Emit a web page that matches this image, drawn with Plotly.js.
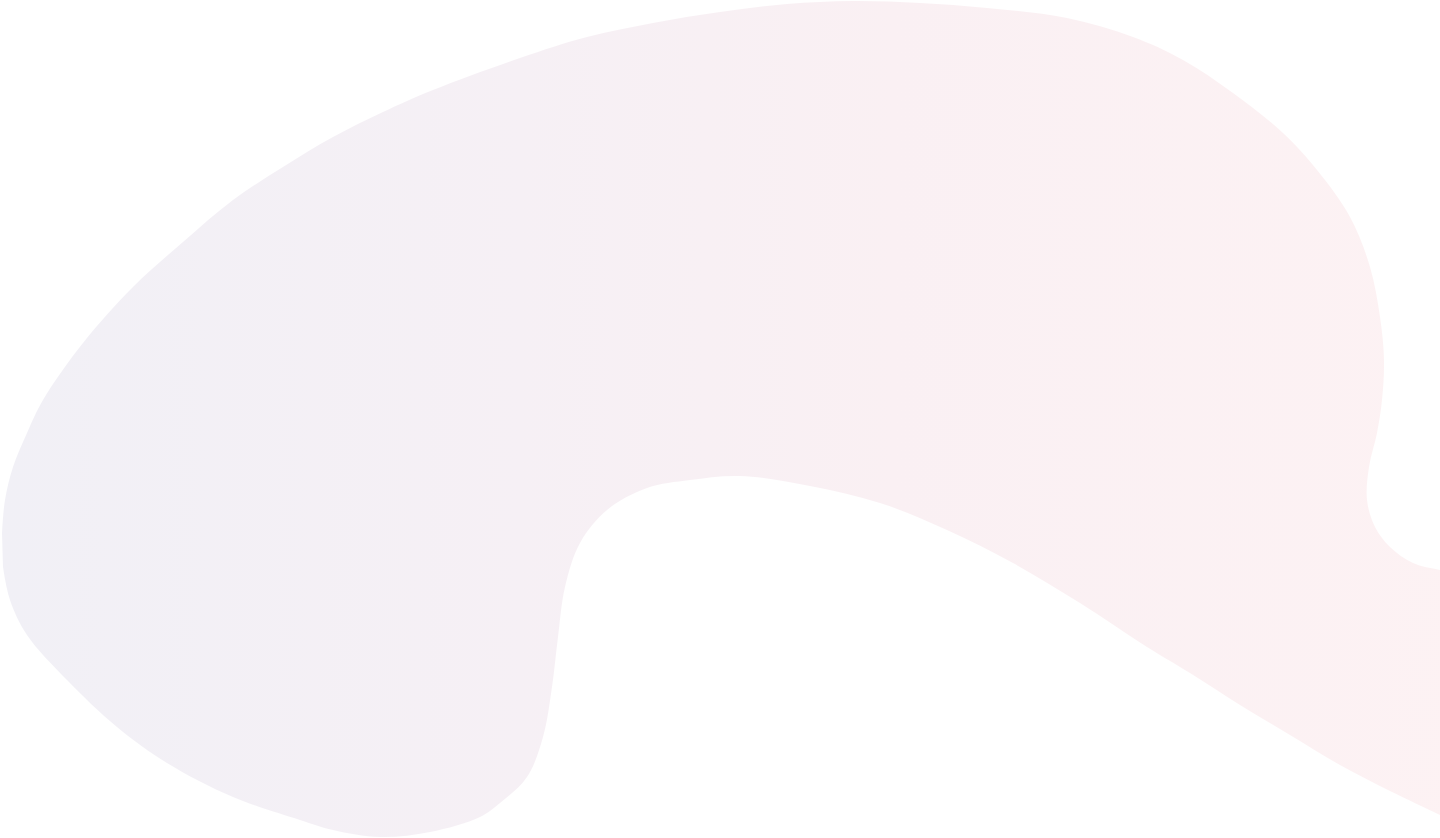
<!DOCTYPE html>
<html>
<head>
<meta charset="utf-8">
<script src="https://cdn.plot.ly/plotly-3.0.1.min.js"></script>
<style>
  html, body { margin: 0; padding: 0; background: #ffffff; overflow: hidden; }
  #blob { width: 1440px; height: 838px; }
</style>
</head>
<body>
<div id="blob"></div>
<script>
// outline of the background blob (pixel units, y down)
// clockwise from the left edge; the two 1470 points sit just past the right border
const outlineX = [2, 5, 13, 27, 43, 83, 133, 183, 233, 283, 333, 383, 433, 520, 587, 653, 720, 787,
    853, 920, 987, 1067, 1133, 1183, 1233, 1283, 1317, 1350, 1370, 1380, 1384, 1382, 1377, 1369,
    1367, 1375, 1390, 1413, 1440, 1470, 1470, 1440, 1390, 1340, 1290, 1240, 1190, 1147, 1080,
    1013, 947, 880, 810, 740, 690, 647, 607, 580, 565, 558, 552, 543, 527, 500, 480, 430, 380,
    333, 300, 233, 167, 117, 67, 27, 10, 3];
const outlineY = [533, 500, 467, 433, 400, 343, 287, 242, 200, 167, 137, 112, 90, 58, 37, 23, 12, 4,
    1, 3, 8, 18, 37, 60, 93, 133, 170, 217, 267, 317, 360, 400, 433, 467,
    500, 527, 547, 563, 570, 575, 830, 815, 791, 765, 735, 705, 673, 647, 603,
    563, 530, 503, 486, 476, 480, 488, 510, 543, 587, 637, 687, 737, 777, 803, 817, 832, 837,
    830, 820, 797, 763, 727, 680, 635, 600, 567];

// left (lavender) to right (pink)
const gradientStops = [0, 0.35, 0.6, 1];
const gradientColors = ['#f1f0f6', '#f6f0f5', '#faf0f3', '#fdf2f3'];

const trace = {
    type: 'scatter',
    mode: 'lines',
    x: outlineX,
    y: outlineY,
    fill: 'toself',
    // invisible 1px outline, spline kept for the fill; simplify off so no points get dropped
    line: { shape: 'spline', smoothing: 1, width: 1, color: 'rgba(255,255,255,0)', simplify: false },
    fillcolor: '#f7f1f5',
    fillgradient: {
        type: 'horizontal',
        colorscale: gradientStops.map((s, i) => [s, gradientColors[i]])
    },
    hoverinfo: 'skip',
    showlegend: false
};

const hiddenAxis = {
    visible: false,
    showgrid: false,
    zeroline: false,
    fixedrange: true
};

const layout = {
    width: 1440,
    height: 838,
    margin: { t: 0, r: 0, b: 0, l: 0, pad: 0 },
    paper_bgcolor: '#ffffff',
    plot_bgcolor: '#ffffff',
    xaxis: Object.assign({ range: [0, 1440] }, hiddenAxis),
    yaxis: Object.assign({ range: [838, 0] }, hiddenAxis),
    hovermode: false,
    showlegend: false
};

Plotly.newPlot('blob', [trace], layout, { displayModeBar: false, staticPlot: true });
</script>
</body>
</html>
